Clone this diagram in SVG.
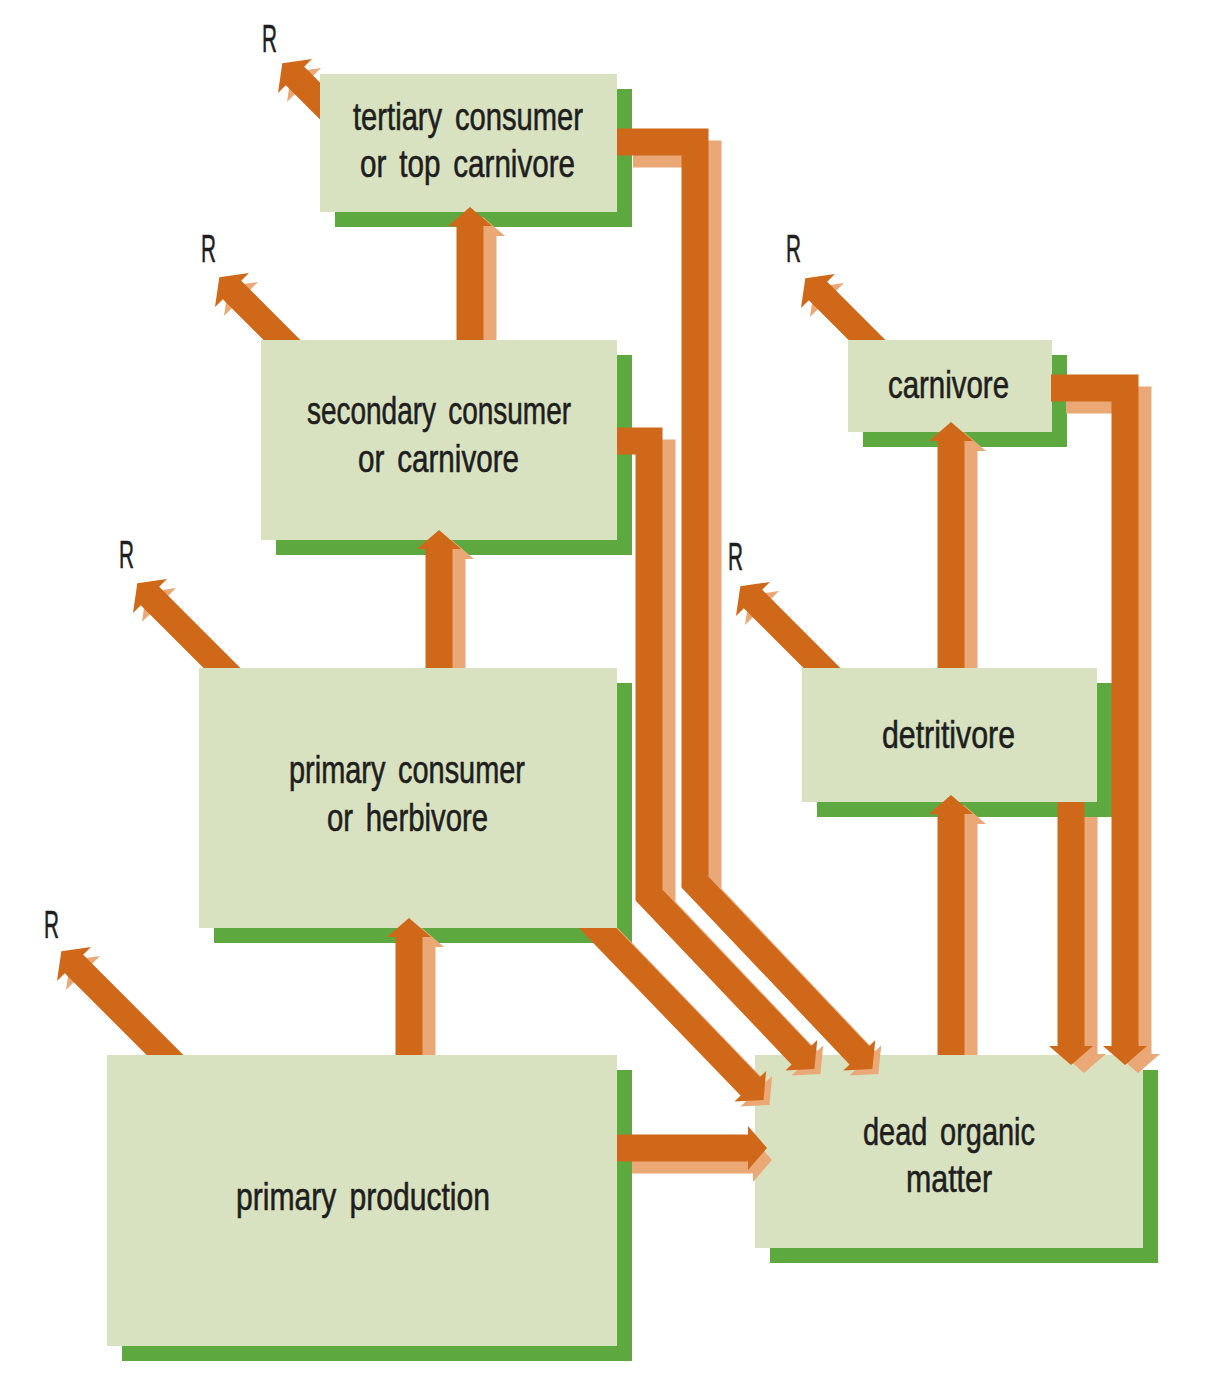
<svg xmlns="http://www.w3.org/2000/svg" width="1209" height="1379" viewBox="0 0 1209 1379">
<style>
.box{fill:#D9E2C0}
.sh{fill:#5EA840}
.lbl{font-family:"Liberation Sans",Arial,sans-serif;font-size:38px;fill:#1e1e1e;stroke:#1e1e1e;stroke-width:0.6;word-spacing:6px}
.o{fill:none;stroke:#D0681A;stroke-width:27;stroke-linejoin:miter;stroke-miterlimit:10;marker-end:url(#ho)}
.l{fill:none;stroke:#EBA877;stroke-width:27;stroke-linejoin:miter;stroke-miterlimit:10;marker-end:url(#hl)}
.of{fill:#D0681A}
.lf{fill:#EBA877}
</style>
<defs>
<marker id="ho" markerUnits="userSpaceOnUse" orient="auto" markerWidth="22" markerHeight="48" viewBox="-2 -24 22 48" refX="0" refY="0" overflow="visible"><path d="M-1,-22 L18,0 L-1,22 z" fill="#D0681A"/></marker>
<marker id="hl" markerUnits="userSpaceOnUse" orient="auto" markerWidth="22" markerHeight="48" viewBox="-2 -24 22 48" refX="0" refY="0" overflow="visible"><path d="M-1,-22 L18,0 L-1,22 z" fill="#EBA877"/></marker>
<clipPath id="belowPC"><rect x="0" y="928" width="1209" height="451"/></clipPath>
</defs>
<rect width="1209" height="1379" fill="#ffffff"/>

<g id="nodes">
<g id="tertiary">
<rect class="sh" x="335" y="89" width="297" height="138"/>
<rect class="box" x="320" y="74" width="297" height="138"/>
<text class="lbl" x="353" y="130" textLength="230" lengthAdjust="spacingAndGlyphs">tertiary consumer</text>
<text class="lbl" x="360" y="177" textLength="215" lengthAdjust="spacingAndGlyphs">or top carnivore</text>
</g>
<g id="secondary">
<rect class="sh" x="276" y="355" width="356" height="200"/>
<rect class="box" x="261" y="340" width="356" height="200"/>
<text class="lbl" x="307" y="424" textLength="264" lengthAdjust="spacingAndGlyphs">secondary consumer</text>
<text class="lbl" x="358" y="472" textLength="161" lengthAdjust="spacingAndGlyphs">or carnivore</text>
</g>
<g id="primary-consumer">
<rect class="sh" x="214" y="683" width="418" height="260"/>
<rect class="box" x="199" y="668" width="418" height="260"/>
<text class="lbl" x="289" y="783" textLength="236" lengthAdjust="spacingAndGlyphs">primary consumer</text>
<text class="lbl" x="327" y="831" textLength="161" lengthAdjust="spacingAndGlyphs">or herbivore</text>
</g>
<g id="primary-production">
<rect class="sh" x="122" y="1070" width="510" height="291"/>
<rect class="box" x="107" y="1055" width="510" height="291"/>
<text class="lbl" x="236" y="1210" textLength="254" lengthAdjust="spacingAndGlyphs">primary production</text>
</g>
<g id="carnivore">
<rect class="sh" x="863" y="355" width="204" height="92"/>
<rect class="box" x="848" y="340" width="204" height="92"/>
<text class="lbl" x="888" y="398" textLength="121" lengthAdjust="spacingAndGlyphs">carnivore</text>
</g>
<g id="detritivore">
<rect class="sh" x="817" y="683" width="295" height="134"/>
<rect class="box" x="802" y="668" width="295" height="134"/>
<text class="lbl" x="882" y="748" textLength="133" lengthAdjust="spacingAndGlyphs">detritivore</text>
</g>
<g id="dead-organic-matter">
<rect class="sh" x="770" y="1070" width="388" height="193"/>
<rect class="box" x="755" y="1055" width="388" height="193"/>
<text class="lbl" x="863" y="1145" textLength="172" lengthAdjust="spacingAndGlyphs">dead organic</text>
<text class="lbl" x="906" y="1192" textLength="86" lengthAdjust="spacingAndGlyphs">matter</text>
</g>
</g>

<g id="connectors">
<!-- light (side) faces -->
<path class="l" d="M633,154 H708 V894 L866,1061"/>
<path class="l" d="M636,453 H662 V907 L808,1061"/>
<path class="l" d="M599,928 L757,1092" clip-path="url(#belowPC)"/>
<path class="l" d="M632,1160 H754"/>
<path class="l" d="M1066,400 H1138 V1055"/>
<path class="l" d="M1084,817 V1055"/>
<path class="l" d="M422,1055 V946"/>
<path class="l" d="M452,668 V558"/>
<path class="l" d="M483,340 V235"/>
<path class="l" d="M964,1055 V823"/>
<path class="l" d="M964,668 V450"/>
<!-- light heads of respiration arrows -->
<polygon class="lf" points="100,956 70.3,960.3 66,990"/>
<polygon class="lf" points="176,588 146.3,592.3 142,622"/>
<polygon class="lf" points="258,282 228.3,286.3 224,316"/>
<polygon class="lf" points="321,68 291.3,72.3 287,102"/>
<polygon class="lf" points="779,591 749.3,595.3 745,625"/>
<polygon class="lf" points="844,283 814.3,287.3 810,317"/>
<!-- orange (front) faces -->
<path class="o" d="M617,142 H695 V882 L860,1056"/>
<path class="o" d="M617,441 H649 V895 L802,1056"/>
<path class="o" d="M586,916 L751,1087" clip-path="url(#belowPC)"/>
<path class="o" d="M617,1148 H749"/>
<path class="o" d="M1051,388 H1125 V1047"/>
<path class="o" d="M1071,802 V1047"/>
<path class="o" d="M409,1055 V936"/>
<path class="o" d="M439,668 V548"/>
<path class="o" d="M470,340 V225"/>
<path class="o" d="M951,1055 V813"/>
<path class="o" d="M951,668 V440"/>
<!-- respiration arrows -->
<polygon class="of" points="146.6,1055 183.4,1055 83.2,954.8 91,947 61.3,951.3 57,981 64.8,973.2"/>
<polygon class="of" points="203.6,668 240.4,668 159.2,586.8 167,579 137.3,583.3 133,613 140.8,605.2"/>
<polygon class="of" points="263.6,340 300.4,340 241.2,280.8 249,273 219.3,277.3 215,307 222.8,299.2"/>
<polygon class="of" points="320,82.6 304.2,66.8 312,59 282.3,63.3 278,93 285.8,85.2 320,119.4"/>
<polygon class="of" points="803.6,668 840.4,668 762.2,589.8 770,582 740.3,586.3 736,616 743.8,608.2"/>
<polygon class="of" points="848.6,340 885.4,340 827.2,281.8 835,274 805.3,278.3 801,308 808.8,300.2"/>
</g>

<g id="labels">
<text class="lbl" x="262" y="52" textLength="15" lengthAdjust="spacingAndGlyphs">R</text>
<text class="lbl" x="201" y="262" textLength="15" lengthAdjust="spacingAndGlyphs">R</text>
<text class="lbl" x="119" y="568" textLength="15" lengthAdjust="spacingAndGlyphs">R</text>
<text class="lbl" x="44" y="938" textLength="15" lengthAdjust="spacingAndGlyphs">R</text>
<text class="lbl" x="786" y="262" textLength="15" lengthAdjust="spacingAndGlyphs">R</text>
<text class="lbl" x="728" y="570" textLength="15" lengthAdjust="spacingAndGlyphs">R</text>
</g>
</svg>
